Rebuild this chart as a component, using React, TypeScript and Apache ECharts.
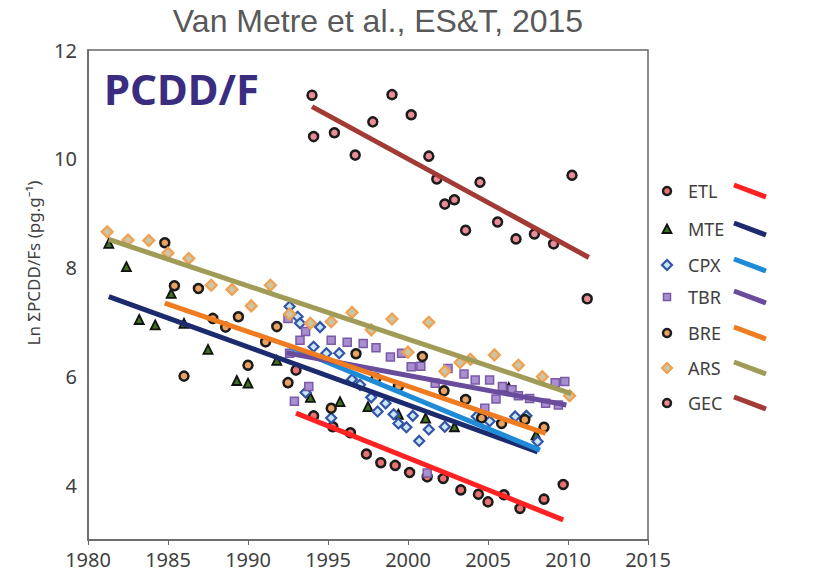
import React, { useEffect, useRef } from "react";
import * as echarts from "echarts";

// ---- data ----
const xTicks = [1980, 1985, 1990, 1995, 2000, 2005, 2010, 2015];
const yTickLabels = [4, 6, 8, 10, 12];

const etlX = [1993.0, 1994.1, 1995.3, 1996.4, 1997.4, 1998.3, 1999.2, 2000.1, 2001.2, 2002.2, 2003.3, 2004.4, 2005.0, 2006.0, 2007.0, 2008.5, 2009.7];
const etlY = [6.12, 5.28, 5.08, 4.97, 4.58, 4.42, 4.37, 4.24, 4.16, 4.13, 3.92, 3.84, 3.70, 3.83, 3.58, 3.75, 4.02];

const mteX = [1981.3, 1982.4, 1983.2, 1984.2, 1985.2, 1986.0, 1987.5, 1989.3, 1990.0, 1991.8, 1993.9, 1995.75, 1997.5, 1999.4, 2001.1, 2002.9, 2006.3, 2008.0];
const mteY = [8.45, 8.02, 7.05, 6.95, 7.53, 6.98, 6.50, 5.93, 5.88, 6.30, 5.62, 5.54, 5.45, 5.31, 5.24, 5.08, 5.80, 4.93];

const cpxX = [1992.6, 1993.1, 1993.25, 1994.5, 1994.1, 1994.9, 1995.7, 1993.6, 1995.2, 1996.5, 1997.0, 1997.7, 1998.6, 1998.1, 1999.1, 1999.4, 1999.9, 2000.3, 2001.3, 2000.7, 2002.3, 2004.3, 2005.1, 2006.7, 2007.4, 2008.1];
const cpxY = [7.29, 7.10, 6.98, 6.91, 6.55, 6.43, 6.43, 5.71, 5.24, 5.95, 5.85, 5.62, 5.51, 5.36, 5.31, 5.14, 5.07, 5.28, 5.03, 4.82, 5.08, 5.27, 5.18, 5.27, 5.28, 4.81];

const tbrX = [1992.5, 1992.6, 1993.6, 1993.25, 1993.8, 1992.9, 1995.2, 1996.2, 1997.2, 1998.0, 1998.9, 1999.6, 2000.2, 2000.8, 2001.7, 2001.2, 2002.5, 2003.5, 2004.2, 2005.1, 2005.9, 2004.8, 2005.5, 2006.5, 2006.9, 2007.6, 2008.6, 2009.2, 2009.8, 2009.4];
const tbrY = [7.07, 6.43, 6.83, 6.67, 5.82, 5.55, 6.67, 6.63, 6.61, 6.53, 6.36, 6.43, 6.18, 6.19, 5.88, 4.23, 6.15, 6.05, 5.94, 5.94, 5.82, 5.42, 5.59, 5.76, 5.65, 5.60, 5.51, 5.89, 5.91, 5.48];

const breX = [1984.8, 1985.4, 1986.0, 1986.9, 1987.8, 1988.6, 1989.4, 1990.0, 1991.1, 1991.8, 1992.5, 1995.2, 1996.75, 1998.0, 1999.4, 2000.9, 2002.25, 2003.6, 2004.6, 2005.85, 2007.3, 2008.5];
const breY = [8.46, 7.67, 6.01, 7.62, 7.07, 6.91, 7.10, 6.21, 6.64, 6.92, 5.89, 5.42, 6.42, 5.97, 5.82, 6.37, 5.74, 5.58, 5.24, 5.14, 5.21, 5.07];

const arsX = [1981.2, 1982.5, 1983.8, 1985.0, 1986.3, 1987.7, 1989.0, 1990.2, 1991.4, 1992.6, 1993.9, 1995.2, 1996.5, 1997.7, 1999.0, 2000.0, 2001.3, 2002.3, 2003.25, 2003.9, 2005.4, 2006.9, 2008.4, 2010.1];
const arsY = [8.66, 8.51, 8.50, 8.27, 8.17, 7.68, 7.60, 7.30, 7.68, 7.15, 6.98, 7.01, 7.18, 6.86, 7.06, 6.45, 7.00, 6.10, 6.26, 6.32, 6.40, 6.21, 6.00, 5.65];

const gecX = [1994.0, 1994.1, 1995.4, 1996.7, 1997.8, 1999.0, 2000.2, 2001.3, 2001.8, 2002.3, 2002.9, 2003.6, 2004.5, 2005.6, 2006.75, 2007.9, 2009.1, 2010.25, 2011.2];
const gecY = [11.17, 10.41, 10.48, 10.07, 10.68, 11.18, 10.81, 10.05, 9.63, 9.17, 9.25, 8.69, 9.57, 8.84, 8.53, 8.62, 8.44, 9.70, 7.43];

// trend line end points [year, value]
const etlTrend = [[1993.0, 5.33], [2009.7, 3.37]];
const mteTrend = [[1981.3, 7.47], [2008.1, 4.62]];
const cpxTrend = [[1992.6, 6.55], [2008.25, 4.65]];
const tbrTrend = [[1992.4, 6.44], [2009.9, 5.48]];
const breTrend = [[1984.8, 7.35], [2008.6, 4.96]];
const arsTrend = [[1981.3, 8.52], [2010.2, 5.69]];
const gecTrend = [[1994.0, 10.96], [2011.3, 8.19]];

const legendNames = ["ETL", "MTE", "CPX", "TBR", "BRE", "ARS", "GEC"];

const titleText = "Van Metre et al., ES&T, 2015";
const panelText = "PCDD/F";
const yName = "Ln ΣPCDD/Fs (pg.g⁻¹)";

// ---- styles ----
const FONT = "'Noto Sans', 'DejaVu Sans', sans-serif";

type Sty = {
  symbol: string;
  size: number;
  fill: string;
  border: string;
  bw: number;
  line: string;
};

const styles: Record<string, Sty> = {
  ETL: { symbol: "circle", size: 9, fill: "#e87272", border: "#1b1b1b", bw: 2.5, line: "#ff2222" },
  MTE: { symbol: "triangle", size: 9, fill: "#3f7020", border: "#111111", bw: 1.8, line: "#1c2a6e" },
  CPX: { symbol: "diamond", size: 10, fill: "#c9e7f6", border: "#3454a8", bw: 2.2, line: "#1f8ad8" },
  TBR: { symbol: "rect", size: 8, fill: "#a88fcf", border: "#7a5aa8", bw: 1.5, line: "#6a4c9c" },
  BRE: { symbol: "circle", size: 9, fill: "#e9a262", border: "#1b1b1b", bw: 2.5, line: "#f07c22" },
  ARS: { symbol: "diamond", size: 11, fill: "#cdc6a4", border: "#f0a050", bw: 2.2, line: "#a09c58" },
  GEC: { symbol: "circle", size: 9, fill: "#e98c98", border: "#1b1b1b", bw: 2.5, line: "#a23a36" },
};

const pts: Record<string, [number[], number[]]> = {
  ETL: [etlX, etlY],
  MTE: [mteX, mteY],
  CPX: [cpxX, cpxY],
  TBR: [tbrX, tbrY],
  BRE: [breX, breY],
  ARS: [arsX, arsY],
  GEC: [gecX, gecY],
};

const trends: Record<string, number[][]> = {
  ETL: etlTrend,
  MTE: mteTrend,
  CPX: cpxTrend,
  TBR: tbrTrend,
  BRE: breTrend,
  ARS: arsTrend,
  GEC: gecTrend,
};

function legendSymbol(name: string, cx: number, cy: number): any {
  const s = styles[name];
  const style = { fill: s.fill, stroke: s.border, lineWidth: s.bw };
  if (s.symbol === "circle") return { type: "circle", shape: { cx, cy, r: 4 }, style };
  if (s.symbol === "triangle")
    return { type: "polygon", shape: { points: [[cx, cy - 4.5], [cx + 4.5, cy + 4], [cx - 4.5, cy + 4]] }, style };
  if (s.symbol === "diamond")
    return { type: "polygon", shape: { points: [[cx, cy - 5], [cx + 5, cy], [cx, cy + 5], [cx - 5, cy]] }, style };
  return { type: "rect", shape: { x: cx - 3.5, y: cy - 3.5, width: 7, height: 7 }, style };
}

export default function App() {
  const ref = useRef<HTMLDivElement>(null);

  useEffect(() => {
    if (!ref.current) return;
    const chart = echarts.init(ref.current, undefined, { renderer: "svg" });

    const series: any[] = [];
    legendNames.forEach((n) => {
      const s = styles[n];
      const [xs, ys] = pts[n];
      series.push({
        name: n,
        type: "scatter",
        data: xs.map((x, i) => [x, ys[i]]),
        symbol: s.symbol,
        symbolSize: s.size,
        itemStyle: { color: s.fill, borderColor: s.border, borderWidth: s.bw, opacity: 1 },
        z: 2,
      });
    });
    legendNames.forEach((n) => {
      const s = styles[n];
      series.push({
        name: n + " trend",
        type: "line",
        data: trends[n],
        showSymbol: false,
        symbol: "none",
        lineStyle: { color: s.line, width: 5, cap: "butt" },
        z: 3,
      });
    });

    const rowsY = [191, 229, 265, 297, 333, 368, 403];
    const legendGraphics: any[] = [];
    legendNames.forEach((n, i) => {
      const y = rowsY[i];
      legendGraphics.push(legendSymbol(n, 667, y));
      legendGraphics.push({
        type: "text",
        x: 688,
        y,
        style: { text: n, fill: "#404040", font: `18px ${FONT}`, textVerticalAlign: "middle" },
      });
      legendGraphics.push({
        type: "line",
        shape: { x1: 734, y1: y - 6, x2: 766, y2: y + 6 },
        style: { stroke: styles[n].line, lineWidth: 5 },
      });
    });

    chart.setOption({
      animation: false,
      backgroundColor: "#ffffff",
      grid: {
        left: 88,
        right: 169,
        top: 50,
        bottom: 34,
        show: true,
        borderColor: "#666666",
        borderWidth: 1.5,
        backgroundColor: "transparent",
      },
      xAxis: {
        type: "value",
        min: xTicks[0],
        max: xTicks[xTicks.length - 1],
        interval: 5,
        axisLine: { show: true, lineStyle: { color: "#666666", width: 1.5 } },
        axisTick: { show: true, length: 5, lineStyle: { color: "#666666" } },
        axisLabel: {
          fontSize: 20,
          color: "#404040",
          margin: 9,
          fontFamily: FONT,
          formatter: (v: number) => String(v),
        },
        splitLine: { show: false },
      },
      yAxis: {
        type: "value",
        min: 3,
        max: 12,
        interval: 1,
        axisLine: { show: true, lineStyle: { color: "#666666", width: 1.5 } },
        axisTick: { show: false },
        axisLabel: {
          fontSize: 20,
          color: "#404040",
          margin: 11,
          fontFamily: FONT,
          formatter: (v: number) => (yTickLabels.indexOf(v) >= 0 ? String(v) : ""),
        },
        splitLine: { show: false },
      },
      graphic: [
        {
          type: "text",
          x: 378,
          y: 21,
          style: {
            text: titleText,
            fill: "#595959",
            font: `32px 'Liberation Sans', Arial, sans-serif`,
            textAlign: "center",
            textVerticalAlign: "middle",
          },
        },
        {
          type: "text",
          x: 104,
          y: 88,
          style: {
            text: panelText,
            fill: "#3a2d80",
            font: `bold 42px ${FONT}`,
            textVerticalAlign: "middle",
          },
        },
        {
          type: "text",
          x: 33,
          y: 263,
          rotation: Math.PI / 2,
          style: {
            text: yName,
            fill: "#404040",
            font: `17px ${FONT}`,
            textAlign: "center",
            textVerticalAlign: "middle",
          },
        },
        ...legendGraphics,
      ],
      series,
    });

    return () => chart.dispose();
  }, []);

  return (
    <div
      ref={ref}
      style={{ position: "fixed", left: 0, top: 0, width: 817, height: 574, background: "#fff" }}
    />
  );
}
